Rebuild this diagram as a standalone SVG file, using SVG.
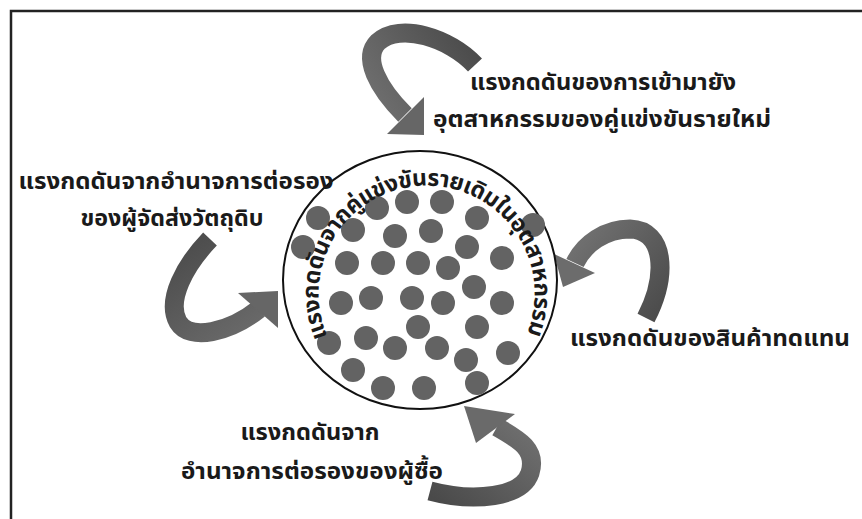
<svg xmlns="http://www.w3.org/2000/svg" width="862" height="519" viewBox="0 0 862 519">
<style>
.lbl{font-family:"Noto Sans Thai","Noto Sans","DejaVu Sans",sans-serif;font-size:23px;font-weight:bold;fill:#1a1a1a;text-anchor:middle}
.arc{font-family:"Noto Sans Thai","Noto Sans","DejaVu Sans",sans-serif;font-size:23px;font-weight:bold;fill:#1a1a1a}
.body{fill:none;stroke-width:19;stroke-linecap:butt}
.dot{fill:#636363}
</style>
<defs>
<linearGradient id="gTop" gradientUnits="userSpaceOnUse" x1="480" y1="50" x2="380" y2="110"><stop offset="0" stop-color="#4a4a4a"/><stop offset="1" stop-color="#6e6e6e"/></linearGradient>
<linearGradient id="gLeft" gradientUnits="userSpaceOnUse" x1="210" y1="235" x2="270" y2="320"><stop offset="0" stop-color="#4e4e4e"/><stop offset="1" stop-color="#6a6a6a"/></linearGradient>
<linearGradient id="gRight" gradientUnits="userSpaceOnUse" x1="660" y1="320" x2="570" y2="250"><stop offset="0" stop-color="#4a4a4a"/><stop offset="1" stop-color="#707070"/></linearGradient>
<linearGradient id="gBot" gradientUnits="userSpaceOnUse" x1="430" y1="495" x2="500" y2="410"><stop offset="0" stop-color="#4a4a4a"/><stop offset="1" stop-color="#6e6e6e"/></linearGradient>
<path id="arcPath" d="M 327.5,336.5 A 108 108 0 1 1 528,331"/>
</defs>
<rect width="862" height="519" fill="#ffffff"/>
<path d="M 11,530 V 11 H 875" fill="none" stroke="#222" stroke-width="2.5"/>

<g id="connectors">
  <g id="arrow-top">
    <path class="body" stroke="url(#gTop)" d="M 475,65 C 450,38 400,22 378,42 C 362,58 378,88 405,115"/>
    <polygon points="424,97 387,134 424,135" fill="#666"/>
  </g>
  <g id="arrow-left">
    <path class="body" stroke="url(#gLeft)" d="M 210,239 C 185,265 166,300 178,322 C 190,342 230,332 259,309"/>
    <polygon points="238,293 278,291 278,328" fill="#666"/>
  </g>
  <g id="arrow-right">
    <path class="body" stroke="url(#gRight)" d="M 646,318 C 668,275 665,230 630,229 C 605,229 584,244 575,263"/>
    <polygon points="554,254 595,273 563,287" fill="#6c6c6c"/>
  </g>
  <g id="arrow-bottom">
    <path class="body" stroke="url(#gBot)" d="M 430,491 C 475,503 522,497 530,473 C 537,450 520,440 497,427"/>
    <polygon points="464,406 476,443 515,414" fill="#6a6a6a"/>
  </g>
</g>

<g id="node-center">
  <ellipse cx="420" cy="280" rx="137" ry="129" fill="#ffffff" stroke="#111" stroke-width="2"/>
  <g id="dots">
    <circle class="dot" cx="377" cy="208" r="12"/>
    <circle class="dot" cx="407" cy="202" r="12"/>
    <circle class="dot" cx="442" cy="202" r="12"/>
    <circle class="dot" cx="318" cy="218" r="12"/>
    <circle class="dot" cx="477" cy="218" r="12"/>
    <circle class="dot" cx="533" cy="225" r="12"/>
    <circle class="dot" cx="353" cy="230" r="12"/>
    <circle class="dot" cx="395" cy="236" r="12"/>
    <circle class="dot" cx="431" cy="231" r="12"/>
    <circle class="dot" cx="303" cy="247" r="12"/>
    <circle class="dot" cx="467" cy="247" r="12"/>
    <circle class="dot" cx="502" cy="258" r="12"/>
    <circle class="dot" cx="347" cy="263" r="12"/>
    <circle class="dot" cx="383" cy="263" r="12"/>
    <circle class="dot" cx="418" cy="263" r="12"/>
    <circle class="dot" cx="448" cy="268" r="12"/>
    <circle class="dot" cx="474" cy="287" r="12"/>
    <circle class="dot" cx="341" cy="303" r="12"/>
    <circle class="dot" cx="371" cy="298" r="12"/>
    <circle class="dot" cx="412" cy="298" r="12"/>
    <circle class="dot" cx="443" cy="303" r="12"/>
    <circle class="dot" cx="502" cy="303" r="12"/>
    <circle class="dot" cx="418" cy="327" r="12"/>
    <circle class="dot" cx="477" cy="327" r="12"/>
    <circle class="dot" cx="329" cy="343" r="12"/>
    <circle class="dot" cx="366" cy="338" r="12"/>
    <circle class="dot" cx="395" cy="348" r="12"/>
    <circle class="dot" cx="437" cy="348" r="12"/>
    <circle class="dot" cx="508" cy="353" r="12"/>
    <circle class="dot" cx="466" cy="360" r="12"/>
    <circle class="dot" cx="353" cy="370" r="12"/>
    <circle class="dot" cx="383" cy="388" r="12"/>
    <circle class="dot" cx="424" cy="388" r="12"/>
    <circle class="dot" cx="477" cy="383" r="12"/>
  </g>
  <text class="arc"><textPath href="#arcPath" textLength="424" lengthAdjust="spacing">แรงกดดันจากคู่แข่งขันรายเดิมในอุตสาหกรรม</textPath></text>
</g>

<g id="node-new-entrants">
  <text class="lbl" x="603" y="90" textLength="266" lengthAdjust="spacingAndGlyphs">แรงกดดันของการเข้ามายัง</text>
  <text class="lbl" x="602" y="127" textLength="338" lengthAdjust="spacingAndGlyphs">อุตสาหกรรมของคู่แข่งขันรายใหม่</text>
</g>
<g id="node-suppliers">
  <text class="lbl" x="176" y="189" textLength="315" lengthAdjust="spacingAndGlyphs">แรงกดดันจากอำนาจการต่อรอง</text>
  <text class="lbl" x="172" y="226" textLength="183" lengthAdjust="spacingAndGlyphs">ของผู้จัดส่งวัตถุดิบ</text>
</g>
<g id="node-substitutes">
  <text class="lbl" x="710" y="346" textLength="280" lengthAdjust="spacingAndGlyphs">แรงกดดันของสินค้าทดแทน</text>
</g>
<g id="node-buyers">
  <text class="lbl" x="310" y="440" textLength="139" lengthAdjust="spacingAndGlyphs">แรงกดดันจาก</text>
  <text class="lbl" x="312" y="479" textLength="262" lengthAdjust="spacingAndGlyphs">อำนาจการต่อรองของผู้ซื้อ</text>
</g>
</svg>
